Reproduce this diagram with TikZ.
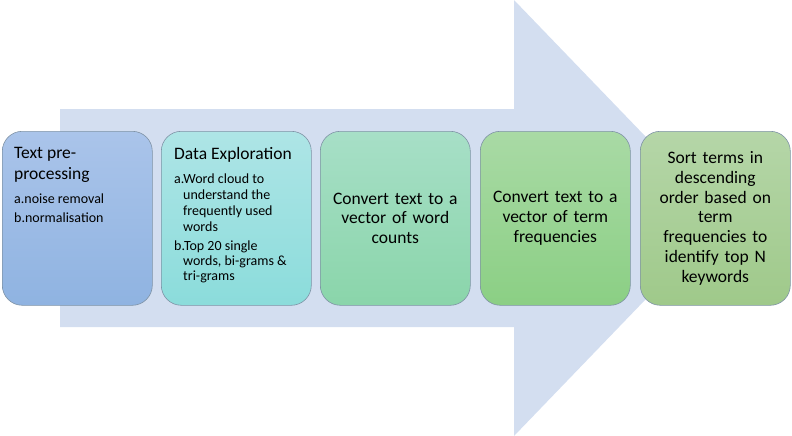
\documentclass[tikz,border=0pt]{standalone}
\usepackage{fontspec}
\setmainfont{Carlito}
\definecolor{arrowfill}{HTML}{D3DEF0}
\definecolor{aTop}{HTML}{AAC4EA}\definecolor{aBot}{HTML}{8FB3E1}
\definecolor{bTop}{HTML}{AEE5E6}\definecolor{bBot}{HTML}{8BDCDB}
\definecolor{cTop}{HTML}{A7DFC7}\definecolor{cBot}{HTML}{8AD5AA}
\definecolor{dTop}{HTML}{A9DAA5}\definecolor{dBot}{HTML}{8BCF84}
\definecolor{eTop}{HTML}{B5D6A8}\definecolor{eBot}{HTML}{9FC98A}
\definecolor{edge}{HTML}{7F93A6}
\begin{document}
\begin{tikzpicture}[x=1pt,y=-1pt,
  stepbox/.style={draw=edge, line width=0.6pt, rounded corners=20pt,
    minimum width=150pt, minimum height=174pt, inner sep=4pt,
    text width=138pt, align=center, anchor=north west,
    font=\fontsize{17.5}{19.7}\selectfont},
  titletext/.style={anchor=north west, inner sep=0pt, align=left,
    font=\fontsize{17.5}{21}\selectfont},
  itemtext/.style={anchor=north west, inner sep=0pt, align=left}]
\useasboundingbox (0,0) rectangle (792,436);
\fill[arrowfill] (60,109) -- (514,109) -- (514,0) -- (724,218) -- (514,436)
  -- (514,327) -- (60,327) -- cycle;
\node[stepbox, top color=aTop, bottom color=aBot] (b1) at (2,131) {};
\node[stepbox, top color=bTop, bottom color=bBot] (b2) at (161,131) {};
\node[stepbox, top color=cTop, bottom color=cBot] (b3) at (320,131)
  {Convert text to a\\vector of word\\counts};
\node[stepbox, top color=dTop, bottom color=dBot] (b4) at (480,131)
  {Convert text to a\\vector of term\\frequencies};
\node[stepbox, top color=eTop, bottom color=eBot] (b5) at (640,131)
  {Sort terms in\\descending\\order based on\\term\\frequencies to\\identify top N\\keywords};
\node[titletext] (t1) at (14,147) {Text pre-\\processing};
\node[itemtext, font=\fontsize{14}{18.3}\selectfont] (l1) at (14,194)
  {a.noise removal\\b.normalisation};
\node[titletext] (t2) at (174,147) {Data Exploration};
\node[itemtext, font=\fontsize{14}{15.8}\selectfont] (l2a) at (174,174)
  {a.Word cloud to\\\hspace*{9pt}understand the\\\hspace*{9pt}frequently used\\\hspace*{9pt}words};
\node[itemtext, font=\fontsize{14}{15}\selectfont] (l2b) at (174,241)
  {b.Top 20 single\\\hspace*{9pt}words, bi-grams \&\\\hspace*{9pt}tri-grams};
\end{tikzpicture}
\end{document}
